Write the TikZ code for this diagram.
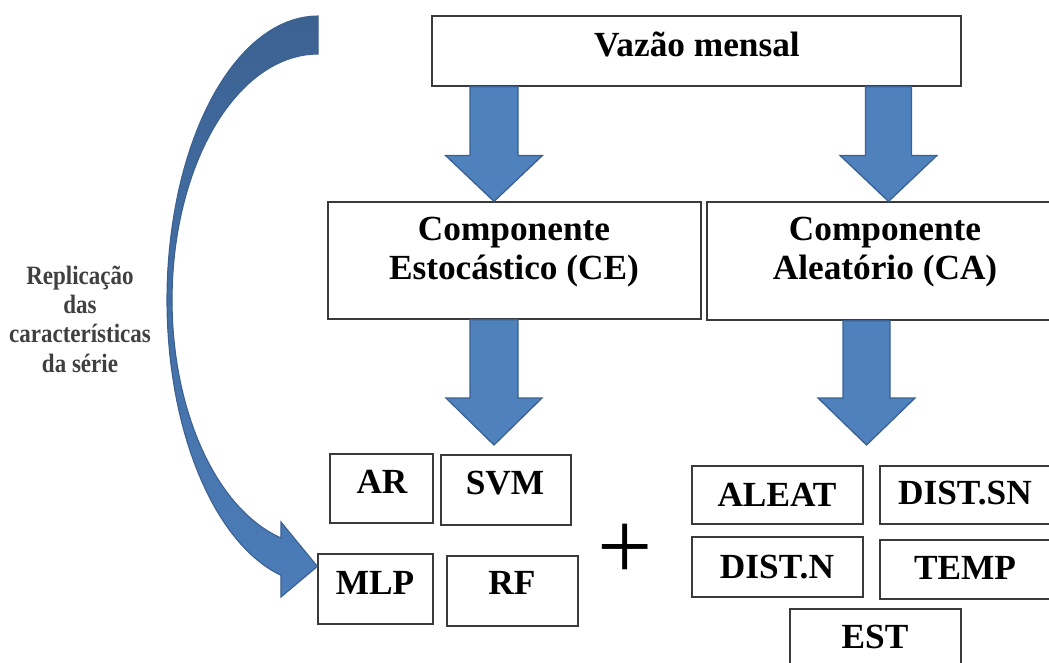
\documentclass[tikz,border=0pt]{standalone}
\usepackage{fontspec}
\setmainfont{Liberation Serif}
\usetikzlibrary{calc}

\definecolor{boxline}{HTML}{3A3A3A}
\definecolor{arrowfill}{HTML}{4F81BD}
\definecolor{arrowline}{HTML}{3B6191}
\definecolor{curvetop}{HTML}{3C6292}
\definecolor{curvebottom}{HTML}{4C7DB9}
\definecolor{sidetext}{HTML}{404040}

% vertical block arrow between two anchors: #1 upper anchor, #2 lower anchor,
% #3 centre x, #4 shaft half width, #5 head half width, #6 head length (all pt)
\newcommand\downblock[6]{%
  \filldraw[barrow] let \p1=(#1), \p2=(#2) in
    (#3pt-#4pt,\y1) -- (#3pt+#4pt,\y1) -- (#3pt+#4pt,\y2+#6pt)
    -- (#3pt+#5pt,\y2+#6pt) -- (#3pt,\y2) -- (#3pt-#5pt,\y2+#6pt)
    -- (#3pt-#4pt,\y2+#6pt) -- cycle;}

% side note lines are set a little taller than wide
\newcommand\tallline[1]{\scalebox{1}[1.15]{#1}}

\tikzset{
  box/.style={draw=boxline, line width=1.2pt, fill=white, inner sep=0pt},
  lbl/.style={font=\fontsize{35.3}{40}\selectfont\bfseries, inner sep=0pt, anchor=base},
  sidelbl/.style={font=\fontsize{23}{28}\selectfont\bfseries, text=sidetext, inner sep=0pt, anchor=base},
  barrow/.style={fill=arrowfill, draw=arrowline, line width=1.3pt, line join=miter},
  carrow/.style={top color=curvetop, bottom color=curvebottom, draw=arrowline, line width=1.1pt},
}

\begin{document}
\begin{tikzpicture}[x=1pt, y=-1pt]
  \useasboundingbox (0,0) rectangle (1049,662);
  \clip (0,0) rectangle (1049,662);

  % boxes
  \node[box, minimum width=529, minimum height=70] (vaz) at (696.5,51) {};
  \node[box, minimum width=373, minimum height=117] (ce) at (514.5,260.5) {};
  \node[box, minimum width=356, minimum height=118] (ca) at (885,261) {};

  \node[box, minimum width=103, minimum height=69] (ar) at (381.5,488.5) {};
  \node[box, minimum width=130, minimum height=70] (svm) at (506,490) {};
  \node[box, minimum width=115, minimum height=70] (mlp) at (375.5,589) {};
  \node[box, minimum width=131, minimum height=70] (rf) at (512.5,591) {};

  \node[box, minimum width=171, minimum height=58] (aleat) at (777.5,495) {};
  \node[box, minimum width=172, minimum height=58] (distsn) at (966,495) {};
  \node[box, minimum width=171, minimum height=60] (distn) at (777.5,567) {};
  \node[box, minimum width=172, minimum height=59] (temp) at (966,569.5) {};
  \node[box, minimum width=171, minimum height=71] (est) at (875.5,644.5) {};

  % labels
  \node[lbl] (tvaz) at (697,56) {Vazão mensal};
  \node[lbl] (tce1) at (514,240) {Componente};
  \node[lbl] (tce2) at (514,279) {Estocástico (CE)};
  \node[lbl] (tca1) at (885,240) {Componente};
  \node[lbl] (tca2) at (885,279) {Aleatório (CA)};

  \node[lbl] (tar) at (382,493) {AR};
  \node[lbl] (tsvm) at (505,494) {SVM};
  \node[lbl] (tmlp) at (375,594) {MLP};
  \node[lbl] (trf) at (512,594) {RF};

  \node[lbl] (taleat) at (777,506) {ALEAT};
  \node[lbl] (tdistsn) at (965,504) {DIST.SN};
  \node[lbl] (tdistn) at (777,578) {DIST.N};
  \node[lbl] (ttemp) at (965,579) {TEMP};
  \node[lbl] (test) at (875,648) {EST};

  \node[font=\fontsize{98}{100}\selectfont, inner sep=0pt, anchor=base] (plus) at (625,579) {+};

  % side note
  \node[sidelbl] (s1) at (80,284) {\tallline{Replicação}};
  \node[sidelbl] (s2) at (80,313) {\tallline{das}};
  \node[sidelbl] (s3) at (80,342) {\tallline{características}};
  \node[sidelbl] (s4) at (80,372) {\tallline{da série}};

  % block arrows
  \coordinate (cetip) at (494,445);
  \coordinate (catip) at (866.5,445);
  \downblock{vaz.south}{ce.north}{494}{24}{48.5}{46}
  \downblock{vaz.south}{ca.north}{888.5}{23}{48.5}{46}
  \downblock{ce.south}{cetip}{494}{24}{48}{47}
  \downblock{ca.south}{catip}{866.5}{23.5}{48.5}{47}

  % curved arrow into MLP
  \coordinate (mlptip) at ($(mlp.north west)+(0,13)$);
  \shadedraw[carrow]
    plot[domain=0:165.8, samples=70, variable=\t] ({318-151*sin(\t)}, {300-284*cos(\t)})
    -- (281,597) -- (mlptip) -- (281,522)
    -- plot[domain=165.3:0, samples=70, variable=\t] ({318-146*sin(\t)}, {300-246*cos(\t)})
    -- cycle;
\end{tikzpicture}
\end{document}
